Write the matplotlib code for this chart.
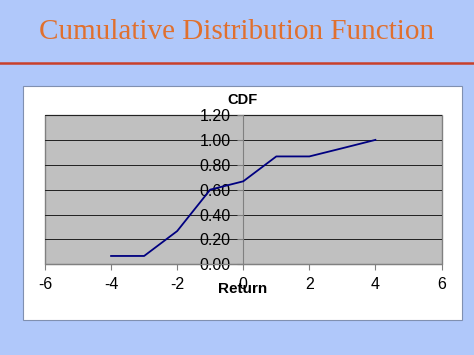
import matplotlib
matplotlib.use("Agg")
import matplotlib.pyplot as plt
from matplotlib.patches import Rectangle
from matplotlib.lines import Line2D

returns = [-4, -3, -2, -1, 0, 1, 2, 3, 4]
cdf = [0.067, 0.067, 0.267, 0.60, 0.667, 0.867, 0.867, 0.933, 1.00]
xticks = [-6, -4, -2, 0, 2, 4, 6]
yticks = [0.0, 0.2, 0.4, 0.6, 0.8, 1.0, 1.2]

W, H = 474, 355
fig = plt.figure(figsize=(W / 100, H / 100), dpi=100)
fig.patch.set_facecolor("#b0c8fa")

fig.text(0.5, 1 - 32 / H, "Cumulative Distribution Function", ha="center", va="center",
         family="Liberation Serif", fontsize=21, color="#e0702e")
fig.add_artist(Line2D([0, 1], [1 - 62.5 / H, 1 - 62.5 / H], color="#c8402a", lw=1.8))

fig.add_artist(Rectangle((22.7 / W, 1 - 320 / H), (461.7 - 22.7) / W, (320 - 86) / H,
                         transform=fig.transFigure, facecolor="white",
                         edgecolor="#8090b0", lw=0.8, zorder=0))

ax = fig.add_axes([45 / W, 1 - 264.3 / H, (441.5 - 45) / W, (264.3 - 115) / H])
ax.set_facecolor("#c0c0c0")
ax.patch.set_edgecolor("#808080")
ax.patch.set_linewidth(1.0)
ax.plot(returns, cdf, color="#000080", lw=1.3, zorder=3)
ax.set_xlim(-6, 6)
ax.set_ylim(0, 1.2)
ax.set_xticks(xticks)
ax.set_yticks(yticks)
ax.set_xticklabels([str(t) for t in xticks])
ax.set_yticklabels([f"{t:.2f}" for t in yticks])
for t in yticks[1:]:
    ax.axhline(t, color="#202020", lw=0.7, zorder=1)
ax.spines["left"].set_position(("data", 0))
ax.spines["right"].set_visible(False)
ax.spines["top"].set_visible(False)
ax.spines["left"].set_color("#808080")
ax.spines["bottom"].set_color("#808080")
ax.tick_params(axis="both", direction="out", length=4, color="#808080",
               labelsize=11.5, labelcolor="black")
ax.tick_params(axis="x", pad=5)
ax.tick_params(axis="y", pad=5)
for lab in ax.get_xticklabels() + ax.get_yticklabels():
    lab.set_family("Liberation Sans")

fig.text(243 / W, 1 - 100 / H, "CDF", ha="center", va="center",
         family="Liberation Sans", fontweight="bold", fontsize=10.5)
fig.text(243 / W, 1 - 289 / H, "Return", ha="center", va="center",
         family="Liberation Sans", fontweight="bold", fontsize=11)

fig.savefig("out.png", dpi=100, facecolor=fig.get_facecolor())
